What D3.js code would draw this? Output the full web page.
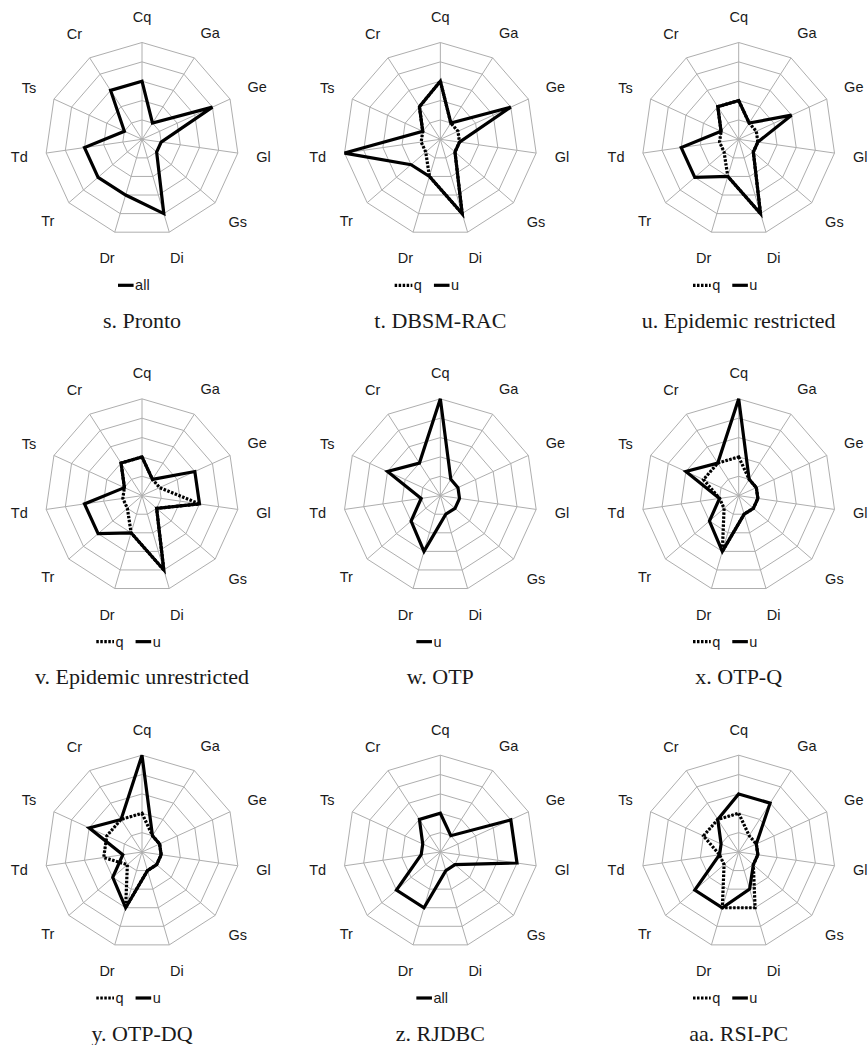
<!DOCTYPE html>
<html>
<head>
<meta charset="utf-8">
<script src="https://cdn.jsdelivr.net/npm/d3@7"></script>
<style>
  html, body { margin: 0; padding: 0; background: #fff; }
  svg { display: block; }
</style>
</head>
<body>
<svg id="chart" width="868" height="1045"></svg>
<script>
// Radar axes (clockwise from top) and grid levels
const axes = ["Cq", "Ga", "Ge", "Gl", "Gs", "Di", "Dr", "Tr", "Td", "Ts", "Cr"];
const levels = [1, 2, 3, 4, 5];
const maxLevel = 5;

// Series values per system, one entry per axis above
const prontoAll      = [3, 1, 4, 1, 1, 4, 3, 3, 3, 1, 3];
const dbsmRacQ       = [3, 1, 1, 1, 1, 4, 2, 1, 1, 1, 2];
const dbsmRacU       = [3, 1, 4, 1, 1, 4, 2, 2, 5, 1, 2];
const epiRestrictedQ = [2, 1, 1, 1, 1, 4, 2, 1, 1, 1, 2];
const epiRestrictedU = [2, 1, 3, 1, 1, 4, 2, 3, 3, 1, 2];
const epiUnrestrQ    = [2, 1, 1, 3, 1, 4, 2, 1, 1, 1, 2];
const epiUnrestrU    = [2, 1, 3, 3, 1, 4, 2, 3, 3, 1, 2];
const otpU           = [5, 1, 1, 1, 1, 1, 3, 2, 1, 3, 2];
const otpQQ          = [2, 1, 1, 1, 1, 1, 3, 1, 1, 2, 2];
const otpQU          = [5, 1, 1, 1, 1, 1, 3, 2, 1, 3, 2];
const otpDqQ         = [2, 1, 1, 1, 1, 1, 3, 1, 2, 2, 2];
const otpDqU         = [5, 1, 1, 1, 1, 1, 3, 2, 1, 3, 2];
const rjdbcAll       = [2, 1, 4, 4, 1, 1, 3, 3, 1, 1, 2];
const rsiPcQ         = [2, 1, 1, 1, 1, 3, 3, 1, 1, 2, 2];
const rsiPcU         = [3, 3, 1, 1, 1, 2, 3, 3, 1, 1, 2];

const panelTitles = [
  "s. Pronto", "t. DBSM-RAC", "u. Epidemic restricted",
  "v. Epidemic unrestricted", "w. OTP", "x. OTP-Q",
  "y. OTP-DQ", "z. RJDBC", "aa. RSI-PC"
];

const panelSeries = [
  [{ name: "all", values: prontoAll, dotted: false }],
  [{ name: "q", values: dbsmRacQ, dotted: true }, { name: "u", values: dbsmRacU, dotted: false }],
  [{ name: "q", values: epiRestrictedQ, dotted: true }, { name: "u", values: epiRestrictedU, dotted: false }],
  [{ name: "q", values: epiUnrestrQ, dotted: true }, { name: "u", values: epiUnrestrU, dotted: false }],
  [{ name: "u", values: otpU, dotted: false }],
  [{ name: "q", values: otpQQ, dotted: true }, { name: "u", values: otpQU, dotted: false }],
  [{ name: "q", values: otpDqQ, dotted: true }, { name: "u", values: otpDqU, dotted: false }],
  [{ name: "all", values: rjdbcAll, dotted: false }],
  [{ name: "q", values: rsiPcQ, dotted: true }, { name: "u", values: rsiPcU, dotted: false }]
];

// Layout
const R = 96.8;
const labelGap = 114.5;     // distance from centre to the near edge of an axis label
const labelHalfH = 7.8;
const colX = d3.scaleLinear().domain([0, 1]).range([142, 440.35]);
const rowY = d3.scaleLinear().domain([0, 1]).range([139.3, 495.65]);

const angle = d3.scaleLinear().domain([0, axes.length]).range([0, 2 * Math.PI]);
const radius = d3.scaleLinear().domain([0, maxLevel]).range([0, R]);

const radarLine = d3.lineRadial()
  .angle((d, i) => angle(i))
  .radius(d => radius(d))
  .curve(d3.curveLinearClosed);

const GRID = "#aeaeae";
const INK = "#000";
const LW = 3.2;
const DOTS = "2.5,1.5";
const SANS = "'Liberation Sans', Arial, sans-serif";

const svg = d3.select("#chart");

panelTitles.forEach((title, p) => {
  const cx = colX(p % 3), cy = rowY(Math.floor(p / 3));
  const g = svg.append("g").attr("transform", `translate(${cx},${cy})`);

  // grid rings
  g.selectAll("path.ring").data(levels).join("path")
    .attr("class", "ring")
    .attr("d", lv => radarLine(axes.map(() => lv)))
    .attr("fill", "none").attr("stroke", GRID).attr("stroke-width", 1);

  // spokes
  g.selectAll("line.spoke").data(axes).join("line")
    .attr("class", "spoke")
    .attr("x1", 0).attr("y1", 0)
    .attr("x2", (d, i) => d3.pointRadial(angle(i), radius(maxLevel))[0])
    .attr("y2", (d, i) => d3.pointRadial(angle(i), radius(maxLevel))[1])
    .attr("stroke", GRID).attr("stroke-width", 1);

  // series (dotted first, solid on top)
  g.selectAll("path.series").data(panelSeries[p]).join("path")
    .attr("class", "series")
    .attr("d", s => radarLine(s.values))
    .attr("fill", "none")
    .attr("stroke", INK)
    .attr("stroke-width", LW)
    .attr("stroke-linejoin", "miter")
    .attr("stroke-dasharray", s => s.dotted ? DOTS : null);

  // axis labels: the label box sits just outside the grid along its spoke
  g.selectAll("text.axis").data(axes).join("text")
    .attr("class", "axis")
    .attr("text-anchor", "middle")
    .attr("dy", "0.35em")
    .attr("font-family", SANS)
    .attr("font-size", 14.5)
    .attr("fill", "#1a1a1a")
    .text(d => d)
    .each(function (d, i) {
      const a = angle(i);
      const ux = Math.sin(a), uy = -Math.cos(a);
      const halfW = this.getComputedTextLength() / 2;
      const dist = labelGap + halfW * Math.abs(ux) + labelHalfH * Math.abs(uy);
      const [x, y] = d3.pointRadial(a, dist);
      d3.select(this).attr("x", x).attr("y", y);
    });

  // legend
  const series = panelSeries[p];
  const lg = g.append("g").attr("transform", `translate(0,146)`);
  let x = series.length > 1 ? -45.7 : -24;
  series.forEach(s => {
    const len = s.dotted ? 17.7 : 15.6;
    lg.append("line")
      .attr("x1", x).attr("x2", x + len).attr("y1", 0).attr("y2", 0)
      .attr("stroke", INK).attr("stroke-width", LW)
      .attr("stroke-dasharray", s.dotted ? DOTS : null);
    x += len + 1.5;
    const t = lg.append("text")
      .attr("x", x).attr("y", 0).attr("dy", "0.35em")
      .attr("font-family", SANS)
      .attr("font-size", 14.5)
      .attr("fill", "#1a1a1a")
      .text(s.name);
    x += t.node().getComputedTextLength() + 12;
  });

  // panel caption
  g.append("text")
    .attr("x", 0).attr("y", 188.5)
    .attr("text-anchor", "middle")
    .attr("font-family", "'Liberation Serif', 'Times New Roman', serif")
    .attr("font-size", 22)
    .attr("fill", "#1a1a1a")
    .text(title);
});
</script>
</body>
</html>
